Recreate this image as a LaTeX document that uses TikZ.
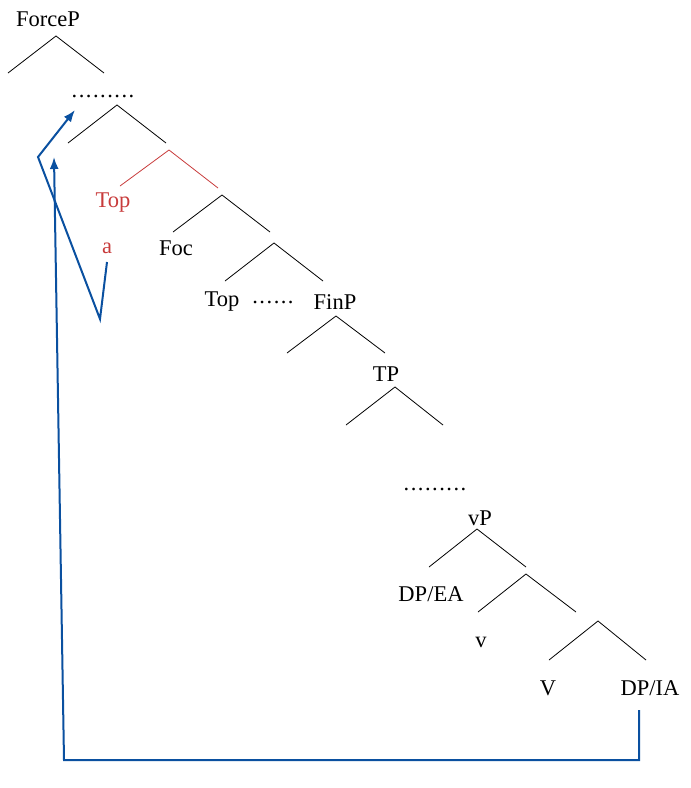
\documentclass[tikz,border=0pt]{standalone}
\usepackage{fontspec}
\setmainfont{Liberation Serif}
\usetikzlibrary{arrows.meta}
\definecolor{mvblue}{RGB}{10,80,160}
\definecolor{mvred}{RGB}{200,60,60}
\newcommand\dotsrow[1]{\foreach \i in {1,...,#1}{\ifnum\i>1\kern1.5pt\fi.}}
\begin{document}
\begin{tikzpicture}[x=1pt,y=-1pt,
  lbl/.style={inner sep=0pt,font=\fontsize{22.5}{26}\selectfont},
  branch/.style={draw=black,line width=0.8pt},
  redbranch/.style={draw=mvred,line width=0.8pt},
  mover/.style={draw=mvblue,line width=2pt,-{Latex[length=12pt,width=9pt]}}]
\useasboundingbox (0,0) rectangle (691,788);
% labels
\node[lbl] (forcep) at (48,19) {ForceP};
\node[lbl] (dots1) at (103,96) {\dotsrow{9}};
\node[lbl,text=mvred] (topred) at (113,203) {Top};
\node[lbl,text=mvred] (a) at (107,248) {a};
\node[lbl] (foc) at (176,248) {Foc};
\node[lbl] (top2) at (222,302) {Top};
\node[lbl] (dots2) at (273,302) {\dotsrow{6}};
\node[lbl] (finp) at (335,302) {FinP};
\node[lbl] (tp) at (386,374) {TP};
\node[lbl] (dots3) at (435,489) {\dotsrow{9}};
\node[lbl] (vp) at (480,518) {vP};
\node[lbl] (dpea) at (431,594) {DP/EA};
\node[lbl] (v) at (481,642) {v};
\node[lbl] (V) at (548,688) {V};
\node[lbl] (dpia) at (650,688) {DP/IA};
% branch coordinates
\foreach \n/\ax/\ay/\lx/\ly/\rx/\ry in {
  b1/56/36/8/73/104/73,
  b2/117/105/68/143/166/143,
  b3/169/150/120/186/218/188,
  b4/222/195/173/232/270/232,
  b5/274/243/225/281/323/281,
  b6/336/316/287/353/385/353,
  b7/395/387/346/425/443/425,
  b8/477/529/429/567/526/567,
  b9/526/574/478/612/576/612,
  b10/598/621/549/660/646/660}{
  \coordinate (\n) at (\ax,\ay);
  \coordinate (\n l) at (\lx,\ly);
  \coordinate (\n r) at (\rx,\ry);
}
\foreach \n in {b1,b2,b4,b5,b6,b7,b8,b9,b10}{
  \draw[branch] (\n l) -- (\n) -- (\n r);
}
\draw[redbranch] (b3l) -- (b3) -- (b3r);
% movement arrows
\coordinate (s1) at (639,710);
\coordinate (c1) at (639,760);
\coordinate (c2) at (64,760);
\coordinate (t1) at (54,157);
\draw[mover] (s1) -- (c1) -- (c2) -- (t1);
\coordinate (s2) at (107,262);
\coordinate (c3) at (100,319);
\coordinate (c4) at (38,157);
\coordinate (t2) at (75,110);
\draw[mover] (s2) -- (c3) -- (c4) -- (t2);
\end{tikzpicture}
\end{document}
